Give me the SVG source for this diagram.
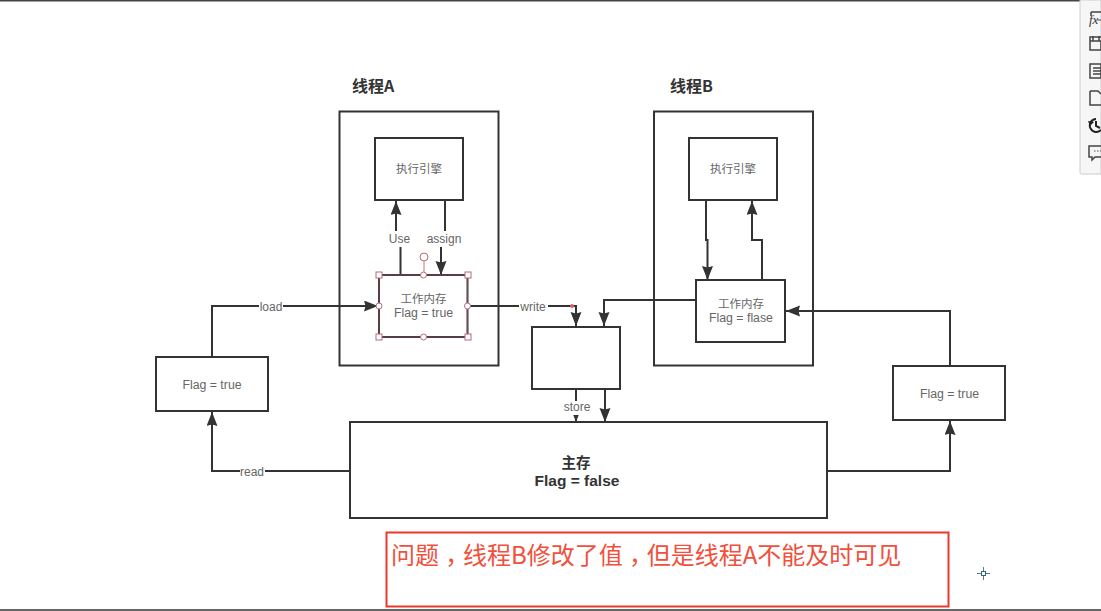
<svg xmlns="http://www.w3.org/2000/svg" width="1101" height="611" viewBox="0 0 1101 611">
<style>
.box{fill:#fff;stroke:#333;stroke-width:2}
.line{fill:none;stroke:#333;stroke-width:2}
.t{font-family:"Noto Sans CJK SC","Liberation Sans",sans-serif;font-size:11.500px;fill:#666;text-anchor:middle}
.f{font-family:"Liberation Sans",sans-serif;font-size:12.300px;fill:#666;text-anchor:middle}
.b{font-family:"Noto Sans CJK SC","Liberation Sans",sans-serif;font-size:16px;font-weight:bold;fill:#333}
.lbl{font-family:"Liberation Sans",sans-serif;font-size:12px;fill:#666;text-anchor:middle}
.bg{fill:#fff;stroke:none}
.h{fill:#fff;stroke:#b56b78;stroke-width:1}
.tool{fill:none;stroke:#444;stroke-width:1.500}
</style>
<defs>
<marker id="a" markerUnits="userSpaceOnUse" markerWidth="15" markerHeight="12" refX="14" refY="5.500" orient="auto"><path d="M0 0L14 5.500L0 11L1.500 5.500Z" fill="#333"/></marker>
</defs>
<rect width="1101" height="611" fill="#fff"/>
<rect x="0" y="0" width="1080" height="1.500" fill="#444"/>
<rect x="0" y="609" width="1101" height="2" fill="#666"/>
<g id="threadA">
<rect class="box" x="339.500" y="111.500" width="159" height="254"/>
<text class="b" x="352" y="92">线程A</text>
</g>
<g id="threadB">
<rect class="box" x="654" y="111.500" width="159" height="254"/>
<text class="b" x="670" y="92">线程B</text>
</g>
<g id="connectors">
<path class="line" marker-end="url(#a)" d="M400.500 275V240H396V201"/>
<path class="line" marker-end="url(#a)" d="M445 200V240H441V275"/>
<path class="line" marker-end="url(#a)" d="M706 200V240H707.500V280"/>
<path class="line" marker-end="url(#a)" d="M762 280V240H752V201"/>
<path class="line" marker-end="url(#a)" d="M212 357V306H378"/>
<path class="line" marker-end="url(#a)" d="M468 306H576V326"/>
<path class="line" marker-end="url(#a)" d="M696 300H604V326"/>
<path class="line" marker-end="url(#a)" d="M576 389V422"/>
<path class="line" marker-end="url(#a)" d="M605 389V422"/>
<path class="line" marker-end="url(#a)" d="M350 471H212V412"/>
<path class="line" marker-end="url(#a)" d="M827 471H950V421"/>
<path class="line" marker-end="url(#a)" d="M950 366V311H786"/>
<circle cx="572" cy="306" r="2" fill="#d9636b"/>
<rect class="bg" x="388" y="231" width="23" height="16"/><text class="lbl" x="399.500" y="243">Use</text>
<rect class="bg" x="426" y="231" width="36" height="16"/><text class="lbl" x="444" y="243">assign</text>
<rect class="bg" x="259" y="300" width="24" height="13"/><text class="lbl" x="271" y="311">load</text>
<rect class="bg" x="519" y="300" width="29" height="13"/><text class="lbl" x="533" y="311">write</text>
<rect class="bg" x="563" y="401" width="29" height="14"/><text class="lbl" x="577" y="411">store</text>
<rect class="bg" x="240" y="465" width="25" height="13"/><text class="lbl" x="252" y="476">read</text>
</g>
<g id="engineA"><rect class="box" x="375" y="138" width="88" height="62"/><text class="t" x="419" y="173">执行引擎</text></g>
<g id="engineB"><rect class="box" x="689" y="138" width="88" height="62"/><text class="t" x="733" y="173">执行引擎</text></g>
<g id="memA">
<rect class="box" x="379" y="275" width="88.500" height="62"/>
<text class="t" x="423.500" y="303">工作内存</text><text class="f" x="423.500" y="317">Flag = true</text>
<path d="M379 275H467.500V337H379Z" fill="none" stroke="#7a4a55" stroke-width="1"/>
<path d="M424 261V275" stroke="#c77" fill="none"/>
<circle class="h" cx="424" cy="257" r="4"/>
<circle class="h" cx="423.500" cy="275" r="3"/><circle class="h" cx="423.500" cy="337" r="3"/><circle class="h" cx="379" cy="306" r="3"/><circle class="h" cx="467.500" cy="306" r="3"/>
<rect class="h" x="376" y="272" width="6" height="6"/><rect class="h" x="465" y="272" width="6" height="6"/><rect class="h" x="376" y="334" width="6" height="6"/><rect class="h" x="465" y="334" width="6" height="6"/>
</g>
<g id="memB"><rect class="box" x="696" y="280" width="89" height="62"/><text class="t" x="741" y="308">工作内存</text><text class="f" x="741" y="322">Flag = flase</text></g>
<g id="buffer"><rect class="box" x="532" y="327" width="88" height="62"/></g>
<g id="flagL"><rect class="box" x="156" y="357" width="112" height="54"/><text class="f" x="212" y="389">Flag = true</text></g>
<g id="flagR"><rect class="box" x="893" y="366" width="112" height="54"/><text class="f" x="949.500" y="398">Flag = true</text></g>
<g id="main"><rect class="box" x="350" y="422" width="477" height="96"/>
<text x="576" y="468" text-anchor="middle" font-family="'Noto Sans CJK SC',sans-serif" font-weight="bold" font-size="14.500" fill="#333">主存</text><text x="577" y="486" text-anchor="middle" font-family="'Liberation Sans',sans-serif" font-weight="bold" font-size="15.500" fill="#333">Flag = false</text></g>
<g id="note"><rect x="386.500" y="532.500" width="562" height="74" fill="none" stroke="#e8392b" stroke-width="2"/>
<text x="391" y="564" font-family="'Noto Sans CJK SC','Liberation Sans',sans-serif" font-size="24" fill="#f0503c">问题<tspan dy="7" font-family="'Noto Sans CJK TC',sans-serif">，</tspan><tspan dy="-7">线程B修改了值</tspan><tspan dy="7" font-family="'Noto Sans CJK TC',sans-serif">，</tspan><tspan dy="-7">但是线程A不能及时可见</tspan></text></g>
<g id="cursor"><path d="M977 573.500H990M983.500 567V580" stroke="#5a7a8a" stroke-width="1"/><rect x="981.500" y="571.500" width="4" height="4" fill="#fff" stroke="#2a6a80"/></g>
<g id="toolbar">
<path d="M1080 0V172.500Q1080 174 1082 174H1101V0Z" fill="#f6f6f6" stroke="#ccc"/>
<path class="tool" d="M1091 12H1101M1091 12V16"/><text x="1089" y="24" font-family="'Liberation Serif',serif" font-style="italic" font-size="13" fill="#333">fx</text><path d="M1097 20H1101" stroke="#444"/>
<path class="tool" d="M1090 41H1101V50H1090ZM1090 41V37H1101M1093 36V41M1099 36V41"/>
<path class="tool" d="M1090 64H1101V78H1090ZM1093 68H1101M1093 71H1101M1093 74H1101"/>
<path class="tool" d="M1090 91H1098L1101 94M1090 91V105H1101"/>
<path d="M1096 119A6.500 6.500 0 1 0 1101 130M1096 121V126L1100 128" fill="none" stroke="#222" stroke-width="2"/>
<path d="M1088 121L1094 122L1090 126Z" fill="#222"/>
<path class="tool" d="M1101 146H1089V157H1092V160L1095 157H1101"/><path d="M1094 151H1101" stroke="#555" stroke-dasharray="1.500 1.500" fill="none"/>
</g>
</svg>
